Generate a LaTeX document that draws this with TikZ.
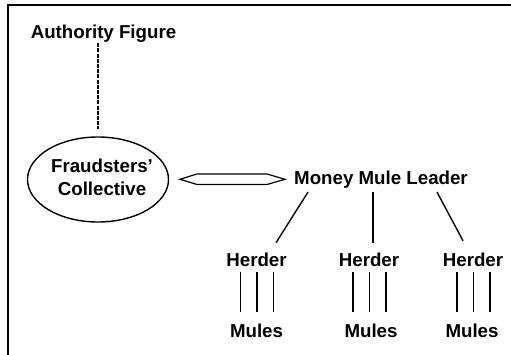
\documentclass[tikz,border=0pt]{standalone}
\usepackage{fontspec}
\setmainfont{Liberation Sans}
\usetikzlibrary{shapes.geometric,calc}
\begin{document}
\begin{tikzpicture}[x=1pt,y=-1pt,
  lbl/.style={inner sep=0pt,anchor=base,font=\fontsize{18.7}{23.5}\selectfont\bfseries},
  frameline/.style={line width=2pt,line cap=rect},
  conn/.style={line width=1.4pt},
  dashline/.style={line width=2.6pt,dash pattern=on 4pt off 1.2pt}]
\useasboundingbox (0,0) rectangle (511,355);
% frame
\draw[frameline] (8,360) -- (8,5) -- (520,5);
% nodes
\node[lbl] (auth) at (103.5,39) {Authority Figure};
\node[draw,ellipse,line width=1.4pt,minimum width=141pt,minimum height=85pt,inner sep=0pt] (coll) at (98,179.5) {};
\node[lbl,align=center] (colltext) at (102,196) {Fraudsters’\\Collective};
\node[lbl] (leader) at (381,185) {Money Mule Leader};
\node[lbl] (h1) at (256.5,266.5) {Herder};
\node[lbl] (h2) at (369,266.5) {Herder};
\node[lbl] (h3) at (473,266.5) {Herder};
\node[lbl] (m1) at (256.5,337) {Mules};
\node[lbl] (m2) at (371,337) {Mules};
\node[lbl] (m3) at (472,337) {Mules};
% dashed link
\draw[dashline] (coll.north |- auth.south) -- ($(coll.north)+(0,-7)$);
% double arrow between collective and leader
\draw[line width=1.2pt,line join=miter] (180,179.3) -- (197,174) -- (267,174) -- (285,179.3) -- (267,184.5) -- (197,184.5) -- cycle;
% leader to herders
\draw[conn] ($(leader.south)+(-73,3)$) -- ($(h1.north)+(19.5,-10)$);
\draw[conn] ($(leader.south)+(-8,3)$) -- ($(h2.north)+(4,-10)$);
\draw[conn] ($(leader.south)+(56,3)$) -- ($(h3.north)+(-10,-12)$);
% herders to mules
\foreach \h/\m in {h1/m1,h2/m2,h3/m3}{
  \foreach \dx in {-16,0.5,17}{
    \draw[conn] ($(\h.south)+(\dx,5.5)$) -- ($(\h.south |- \m.north)+(\dx,-11.4)$);
  }
}
\end{tikzpicture}
\end{document}
